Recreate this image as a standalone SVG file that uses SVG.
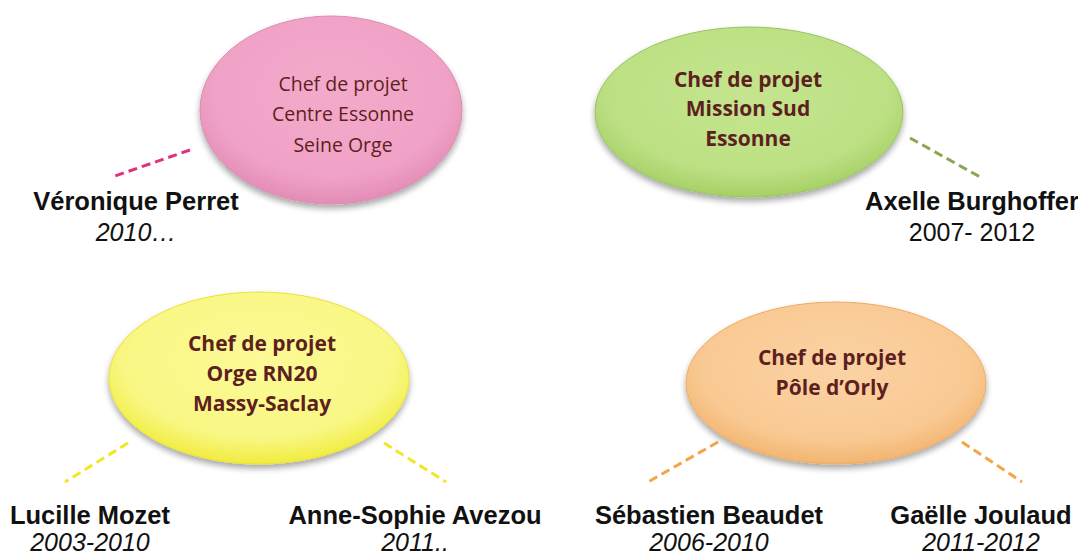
<svg xmlns="http://www.w3.org/2000/svg" width="1078" height="555" viewBox="0 0 1078 555">
<defs>
<radialGradient id="gPink" cx="50%" cy="40%" r="60%">
<stop offset="0" stop-color="#f4aacb"/><stop offset="0.75" stop-color="#f0a2c6"/><stop offset="1" stop-color="#e38cb6"/>
</radialGradient>
<radialGradient id="gGreen" cx="50%" cy="40%" r="60%">
<stop offset="0" stop-color="#c4e58e"/><stop offset="0.75" stop-color="#bde084"/><stop offset="1" stop-color="#a6d066"/>
</radialGradient>
<radialGradient id="gYellow" cx="50%" cy="40%" r="60%">
<stop offset="0" stop-color="#fbfa96"/><stop offset="0.75" stop-color="#f9f784"/><stop offset="1" stop-color="#f0ec3e"/>
</radialGradient>
<radialGradient id="gOrange" cx="50%" cy="40%" r="60%">
<stop offset="0" stop-color="#fbd3a4"/><stop offset="0.75" stop-color="#f9c993"/><stop offset="1" stop-color="#f2b570"/>
</radialGradient>
<filter id="sh" x="-10%" y="-10%" width="120%" height="130%">
<feGaussianBlur in="SourceAlpha" stdDeviation="3"/>
<feOffset dx="0" dy="4" result="b"/>
<feComponentTransfer><feFuncA type="linear" slope="0.35"/></feComponentTransfer>
<feMerge><feMergeNode/><feMergeNode in="SourceGraphic"/></feMerge>
</filter>
<style>
.et{font-family:"Open Sans","Noto Sans",sans-serif;font-size:19.5px;fill:#5e1f20;text-anchor:middle}
.eb{font-weight:bold;font-size:21px}
.nm{font-family:"Liberation Sans",Arial,sans-serif;font-size:25.5px;font-weight:bold;fill:#111;text-anchor:middle}
.yr{font-family:"Liberation Sans",Arial,sans-serif;font-size:25px;font-style:italic;fill:#111;text-anchor:middle}
.yn{font-style:normal}
.c{fill:none;stroke-width:3;stroke-dasharray:9 5}
</style>
</defs>
<rect width="1078" height="555" fill="#fff"/>
<g id="connectors">
<line class="c" x1="190" y1="150" x2="112" y2="177" stroke="#e2307d"/>
<line class="c" x1="910" y1="138" x2="982" y2="178" stroke="#8aa852"/>
<line class="c" x1="128" y1="443" x2="65" y2="482" stroke="#f2e62a"/>
<line class="c" x1="384" y1="443" x2="446" y2="482" stroke="#f2e62a"/>
<line class="c" x1="718" y1="442" x2="648" y2="482" stroke="#f4a548"/>
<line class="c" x1="962" y1="442" x2="1022" y2="482" stroke="#f4a548"/>
</g>
<g id="node-centre">
<ellipse cx="331" cy="110" rx="131" ry="94" fill="url(#gPink)" stroke="#dc8cb2" stroke-width="1" filter="url(#sh)"/>
<text class="et" x="343" y="91">Chef de projet</text>
<text class="et" x="343" y="121">Centre Essonne</text>
<text class="et" x="343" y="152">Seine Orge</text>
</g>
<g id="node-sud">
<ellipse cx="749" cy="112" rx="154" ry="85" fill="url(#gGreen)" stroke="#98c45c" stroke-width="1" filter="url(#sh)"/>
<text class="et eb" x="748" y="87">Chef de projet</text>
<text class="et eb" x="748" y="116">Mission Sud</text>
<text class="et eb" x="748" y="146">Essonne</text>
</g>
<g id="node-orge">
<ellipse cx="259" cy="378" rx="150" ry="86" fill="url(#gYellow)" stroke="#ece234" stroke-width="1" filter="url(#sh)"/>
<text class="et eb" x="262" y="351">Chef de projet</text>
<text class="et eb" x="262" y="381">Orge RN20</text>
<text class="et eb" x="262" y="411">Massy-Saclay</text>
</g>
<g id="node-orly">
<ellipse cx="836" cy="383" rx="150" ry="81" fill="url(#gOrange)" stroke="#eeab62" stroke-width="1" filter="url(#sh)"/>
<text class="et eb" x="832" y="365">Chef de projet</text>
<text class="et eb" x="832" y="395">Pôle d’Orly</text>
</g>
<g id="person-perret">
<text class="nm" x="136" y="210">Véronique Perret</text>
<text class="yr" x="136" y="241">2010…</text>
</g>
<g id="person-burghoffer">
<text class="nm" x="972" y="210">Axelle Burghoffer</text>
<text class="yr yn" x="972" y="241">2007- 2012</text>
</g>
<g id="person-mozet">
<text class="nm" x="90" y="524">Lucille Mozet</text>
<text class="yr" x="90" y="551">2003-2010</text>
</g>
<g id="person-avezou">
<text class="nm" x="415" y="524">Anne-Sophie Avezou</text>
<text class="yr" x="415" y="551">2011..</text>
</g>
<g id="person-beaudet">
<text class="nm" x="709" y="524">Sébastien Beaudet</text>
<text class="yr" x="709" y="551">2006-2010</text>
</g>
<g id="person-joulaud">
<text class="nm" x="981" y="524">Gaëlle Joulaud</text>
<text class="yr" x="981" y="551">2011-2012</text>
</g>
</svg>
